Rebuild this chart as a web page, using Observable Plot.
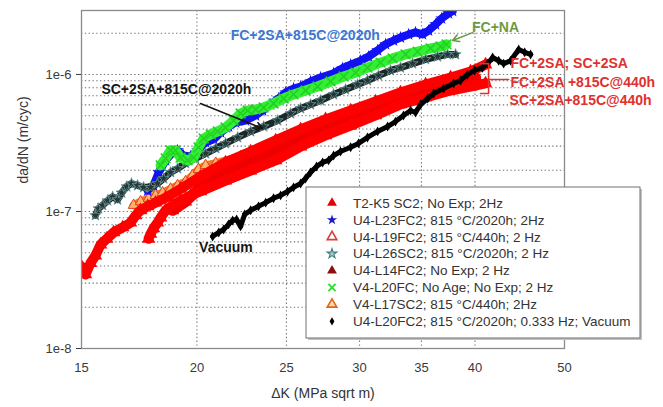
<!DOCTYPE html>
<html><head><meta charset="utf-8">
<script src="https://cdn.jsdelivr.net/npm/d3@7"></script>
<script src="https://cdn.jsdelivr.net/npm/@observablehq/plot@0.6"></script>
<style>body{margin:0;background:#fff}</style>
</head><body><div id="chart"></div>
<script>
// ---- data (ΔK in MPa√m, da/dN in m/cycle) ----
const t2k5 = [[15.00,3.96e-8],[15.15,3.47e-8],[15.34,4.2e-8],[15.53,4.77e-8],[15.73,5.74e-8],[15.97,6.32e-8],[16.25,7.03e-8],[16.62,7.65e-8],[16.95,8.28e-8],[17.17,9.37e-8],[17.38,1.02e-7],[17.69,1.09e-7],[18.04,1.16e-7],[18.50,1.26e-7],[19.20,1.46e-7],[20.18,1.80e-7],[21.48,2.28e-7],[22.87,2.74e-7],[24.34,3.30e-7],[25.90,3.97e-7],[27.56,4.70e-7],[29.34,5.46e-7],[31.22,6.35e-7],[33.22,7.39e-7],[35.37,8.45e-7],[37.64,9.50e-7],[39.56,1.05e-6],[41.07,1.18e-6]];
const l23 = [[17.69,1.42e-7],[17.95,1.55e-7],[18.18,1.93e-7],[18.50,2.36e-7],[18.82,2.69e-7],[19.06,2.79e-7],[19.34,2.56e-7],[19.69,2.52e-7],[20.03,2.79e-7],[20.44,3.19e-7],[20.86,3.36e-7],[21.22,3.77e-7],[21.64,4.17e-7],[22.03,4.46e-7],[22.58,4.61e-7],[23.15,5.02e-7],[23.56,5.46e-7],[24.03,6.04e-7],[24.52,6.68e-7],[24.95,7.39e-7],[25.45,7.90e-7],[25.90,8.17e-7],[26.55,8.89e-7],[27.22,9.50e-7],[28.12,1.02e-6],[28.75,1.11e-6],[29.34,1.18e-6],[30.07,1.26e-6],[30.68,1.35e-6],[31.38,1.50e-6],[32.01,1.66e-6],[32.65,1.77e-6],[33.22,1.86e-6],[33.90,1.96e-6],[34.49,2.03e-6],[35.10,1.96e-6],[35.63,2.09e-6],[36.26,2.32e-6],[36.80,2.56e-6],[37.45,2.79e-6],[37.83,2.90e-6]];
const l19 = [[17.73,6.32e-8],[17.82,6.88e-8],[17.95,7.54e-8],[18.13,8.28e-8],[18.27,9.03e-8],[18.50,1.02e-7],[18.82,1.11e-7],[19.20,1.20e-7],[19.69,1.31e-7],[20.18,1.40e-7],[21.48,1.68e-7],[22.87,1.99e-7],[24.34,2.36e-7],[25.90,2.98e-7],[27.56,3.59e-7],[29.34,4.24e-7],[31.22,5.02e-7],[33.22,6.04e-7],[35.37,6.80e-7],[37.64,7.64e-7],[39.56,8.17e-7],[41.07,8.60e-7]];
const l26 = [[15.53,9.37e-8],[15.65,1.05e-7],[15.81,1.11e-7],[16.01,1.20e-7],[16.21,1.28e-7],[16.41,1.22e-7],[16.58,1.37e-7],[16.79,1.52e-7],[16.99,1.60e-7],[17.25,1.55e-7],[17.51,1.50e-7],[17.82,1.50e-7],[18.13,1.60e-7],[18.41,1.74e-7],[18.73,1.93e-7],[19.06,2.06e-7],[19.44,2.25e-7],[19.93,2.44e-7],[20.44,2.65e-7],[20.96,2.89e-7],[21.48,3.14e-7],[22.14,3.47e-7],[22.87,3.84e-7],[23.62,4.17e-7],[24.46,4.61e-7],[25.26,5.19e-7],[25.90,5.65e-7],[26.55,6.04e-7],[27.22,6.46e-7],[28.12,7.15e-7],[28.97,7.77e-7],[29.85,8.45e-7],[30.60,9.04e-7],[31.45,9.83e-7],[32.41,1.07e-6],[33.22,1.12e-6],[34.24,1.20e-6],[35.37,1.29e-6],[36.44,1.35e-6],[37.36,1.40e-6],[38.11,1.40e-6]];
const l14 = [[18.82,1.02e-7],[19.44,1.18e-7],[20.18,1.50e-7],[21.48,1.93e-7],[22.87,2.32e-7],[24.34,2.79e-7],[25.90,3.36e-7],[27.56,4.03e-7],[29.34,4.77e-7],[31.22,5.55e-7],[33.22,6.57e-7],[35.37,7.51e-7],[37.64,8.45e-7],[40.06,9.50e-7]];
const v20 = [[18.27,2.17e-7],[18.50,2.44e-7],[18.73,2.79e-7],[18.96,2.79e-7],[19.20,2.47e-7],[19.54,2.36e-7],[19.83,2.47e-7],[20.08,2.94e-7],[20.34,3.41e-7],[20.70,3.65e-7],[21.06,3.84e-7],[21.48,4.10e-7],[21.92,4.61e-7],[22.30,5.19e-7],[22.70,5.46e-7],[23.15,5.55e-7],[23.62,5.74e-7],[24.21,6.14e-7],[24.83,6.68e-7],[25.45,7.15e-7],[26.22,7.64e-7],[27.02,8.17e-7],[27.91,8.89e-7],[28.83,9.67e-7],[29.70,1.03e-6],[30.60,1.12e-6],[31.61,1.22e-6],[32.57,1.31e-6],[33.64,1.40e-6],[34.67,1.47e-6],[35.81,1.55e-6],[36.71,1.60e-6],[37.26,1.66e-6]];
const v17 = [[17.08,1.11e-7],[17.38,1.18e-7],[17.73,1.25e-7],[18.04,1.31e-7],[18.36,1.37e-7],[18.73,1.46e-7],[19.06,1.55e-7],[19.44,1.65e-7],[19.78,1.83e-7],[20.08,2.03e-7],[20.44,2.17e-7],[20.96,2.25e-7],[22.30,2.52e-7],[24.34,3.03e-7],[25.90,3.53e-7],[29.34,4.77e-7],[33.22,6.46e-7],[37.17,8.17e-7]];
const vac = [[20.80,6.57e-8],[21.12,7.03e-8],[21.38,7.39e-8],[21.64,8.05e-8],[21.86,8.59e-8],[22.08,8.74e-8],[22.30,7.78e-8],[22.53,9.53e-8],[22.87,1.02e-7],[23.32,1.09e-7],[23.74,1.16e-7],[24.21,1.25e-7],[24.64,1.31e-7],[25.07,1.40e-7],[25.45,1.50e-7],[25.90,1.60e-7],[26.22,1.74e-7],[26.55,1.93e-7],[26.95,2.13e-7],[27.36,2.28e-7],[27.77,2.36e-7],[28.12,2.56e-7],[28.61,2.74e-7],[29.34,2.94e-7],[29.92,3.14e-7],[30.60,3.47e-7],[31.38,3.84e-7],[32.17,4.17e-7],[32.81,4.53e-7],[33.47,5.02e-7],[34.07,5.46e-7],[34.49,5.28e-7],[34.93,6.04e-7],[35.55,6.68e-7],[36.08,7.27e-7],[36.99,7.90e-7],[37.92,8.60e-7],[38.59,9.04e-7],[39.26,1.00e-6],[39.96,1.07e-6],[40.76,1.12e-6],[41.27,1.20e-6],[41.80,1.33e-6],[42.43,1.26e-6],[42.96,1.20e-6],[43.71,1.26e-6],[44.60,1.52e-6],[45.27,1.45e-6],[45.95,1.40e-6]];

const xTicks = [15, 20, 25, 30, 35, 40, 50];
const xGrid = [20, 25, 30, 35, 40];
const yTicks = [1e-8, 1e-7, 1e-6];
const yGrid = [];
for (const e of [-8, -7, -6]) for (let m = 1; m <= 9; m++) { const v = m * Math.pow(10, e); if (v < 2.93e-6) yGrid.push(v); }

const legendLabels = [
  "T2-K5 SC2; No Exp; 2Hz",
  "U4-L23FC2; 815 °C/2020h; 2Hz",
  "U4-L19FC2; 815 °C/440h; 2 Hz",
  "U4-L26SC2; 815 °C/2020h; 2 Hz",
  "U4-L14FC2; No Exp; 2 Hz",
  "V4-L20FC; No Age; No Exp; 2 Hz",
  "V4-L17SC2; 815 °C/440h; 2Hz",
  "U4-L20FC2; 815 °C/2020h; 0.333 Hz; Vacuum"
];

const notesMid = [
  {x: 26.2, y: 1.93e-6, t: "FC+2SA+815C@2020h", c: "#3b78d2"},
  {x: 42.1, y: 2.20e-6, t: "FC+NA", c: "#6b9a45"},
  {x: 19.0, y: 7.77e-7, t: "SC+2SA+815C@2020h", c: "#151515"},
  {x: 21.5, y: 5.47e-8, t: "Vacuum", c: "#151515"}
];
const notesStart = [
  {x: 43.7, y: 1.20e-6, t: "FC+2SA; SC+2SA"},
  {x: 43.7, y: 8.74e-7, t: "FC+2SA +815C@440h"},
  {x: 43.6, y: 6.46e-7, t: "SC+2SA+815C@440h"}
];
const arrows = [
  {x1: 20.18, y1: 6.14e-7, x2: 23.56, y2: 4.03e-7, c: "#151515"},
  {x1: 39.76, y1: 2.02e-6, x2: 37.83, y2: 1.77e-6, c: "#6b9a45"}
];
const bracket = [[40.56, 1.20e-6], [41.38, 1.20e-6], [41.38, 7.27e-7], [40.56, 7.27e-7]];
const bracketArm = [[41.38, 9.2e-7], [43.5, 9.2e-7]];

const X = d => d[0], Y = d => d[1];
function series(data, lineColor, w, dotOpts) {
  return [
    Plot.line(data, {x: X, y: Y, stroke: lineColor, strokeWidth: w, strokeLinejoin: "round", strokeLinecap: "round", clip: true}),
    Plot.dot(data, {x: X, y: Y, clip: true, ...dotOpts})
  ];
}

const chart = Plot.plot({
  width: 663, height: 407,
  marginLeft: 81, marginRight: 99, marginTop: 10, marginBottom: 59,
  style: {fontFamily: "'Liberation Sans', Arial, sans-serif", fontSize: "13px", color: "#3a3a3a", background: "white", overflow: "visible"},
  x: {type: "log", domain: [15, 50]},
  y: {type: "log", domain: [1e-8, 2.93e-6]},
  marks: [
    Plot.ruleY(yGrid, {stroke: "#777", strokeDasharray: "1.4,2.4", strokeWidth: 1.1}),
    Plot.ruleX(xGrid, {stroke: "#777", strokeDasharray: "1.4,2.4", strokeWidth: 1.1}),
    ...series(v17, "#f47a22", 8, {symbol: "triangle", r: 4, stroke: "#e8401a", fill: "#ffb36b", strokeWidth: 1}),
    ...series(l14, "#f00000", 11, {symbol: "triangle", r: 5, fill: "#ee0000"}),
    ...series(t2k5, "#ff0000", 10, {symbol: "triangle", r: 5, fill: "#ff0000"}),
    ...series(l19, "#ff0000", 10, {symbol: "triangle", r: 5, fill: "#ff0000"}),
    ...series(l23, "#1414e6", 8, {symbol: "star", r: 4, fill: "#1010ff"}),
    ...series(l26, "#1c2828", 7, {symbol: "star", r: 3.5, fill: "#263636", stroke: "#6a9a9a", strokeWidth: 0.8}),
    ...series(v20, "#33ee33", 10, {symbol: "times", r: 4.5, stroke: "#22d022", strokeWidth: 1.5}),
    ...series(vac, "#000000", 5, {symbol: "diamond", r: 3, fill: "#000"}),
    Plot.frame({stroke: "#8a8a8a", strokeWidth: 1.3}),
    Plot.axisY({ticks: yTicks, tickFormat: d => "1e" + Math.round(Math.log10(d)).toString(), tickSize: 5, tickPadding: 5, label: null, fontSize: 13}),
    Plot.axisX({ticks: xTicks, tickFormat: d => String(d), tickSize: 0, tickPadding: 14, label: null, fontSize: 13}),
    Plot.text(["da/dN (m/cyc)"], {frameAnchor: "left", text: d => d, rotate: -90, dx: -58, dy: 4, fontSize: 14, fill: "#333"}),
    Plot.text(["ΔK (MPa sqrt m)"], {frameAnchor: "bottom", text: d => d, dy: 49, fontSize: 14, fill: "#333"}),
    Plot.arrow(arrows, {x1: "x1", y1: "y1", x2: "x2", y2: "y2", stroke: "c", strokeWidth: 1.6, headLength: 7}),
    Plot.line(bracket, {x: X, y: Y, stroke: "#e03030", strokeWidth: 1.6}),
    Plot.line(bracketArm, {x: X, y: Y, stroke: "#e03030", strokeWidth: 1.6}),
    Plot.text(notesMid, {x: "x", y: "y", text: "t", fill: "c", fontWeight: "bold", fontSize: 14, textAnchor: "middle"}),
    Plot.text(notesStart, {x: "x", y: "y", text: "t", fill: "#e0302e", fontWeight: "bold", fontSize: 14, textAnchor: "start"})
  ]
});

// legend box drawn on top of the plot
const svg = d3.select(chart);
const lg = svg.append("g").attr("font-family", "'Liberation Sans', Arial, sans-serif").attr("font-size", "13.5px").attr("text-anchor", "start");
lg.append("rect").attr("x", 308).attr("y", 189).attr("width", 334).attr("height", 151).attr("fill", "#c4c4c4");
lg.append("rect").attr("x", 306).attr("y", 187).attr("width", 334).attr("height", 151).attr("fill", "#fff").attr("stroke", "#707070").attr("stroke-width", 1);
const legendSyms = [
  {type: d3.symbolTriangle, size: 42, fill: "#e80000", stroke: "none"},
  {type: d3.symbolStar, size: 34, fill: "#1a1acc", stroke: "none"},
  {type: d3.symbolTriangle, size: 40, fill: "#fff", stroke: "#d84040", sw: 1.6},
  {type: d3.symbolStar, size: 30, fill: "#a8cccc", stroke: "#3f7f80", sw: 1.1},
  {type: d3.symbolTriangle, size: 42, fill: "#8a1010", stroke: "none"},
  {type: d3.symbolTimes, size: 36, fill: "none", stroke: "#33dd33", sw: 2},
  {type: d3.symbolTriangle, size: 40, fill: "#ffd9b0", stroke: "#e2651a", sw: 1.6},
  {type: d3.symbolDiamond, size: 20, fill: "#000", stroke: "none"}
];
legendLabels.forEach((lab, i) => {
  const y = 203 + i * 16.9;
  const s = legendSyms[i];
  lg.append("path").attr("d", d3.symbol().type(s.type).size(s.size)()).attr("transform", `translate(332,${y})`)
    .attr("fill", s.fill).attr("stroke", s.stroke).attr("stroke-width", s.sw || 0);
  lg.append("text").attr("x", 353).attr("y", y).attr("dy", "0.35em").attr("text-anchor", "start").attr("fill", "#333").text(lab);
});

document.getElementById("chart").appendChild(chart);
</script>
</body></html>
